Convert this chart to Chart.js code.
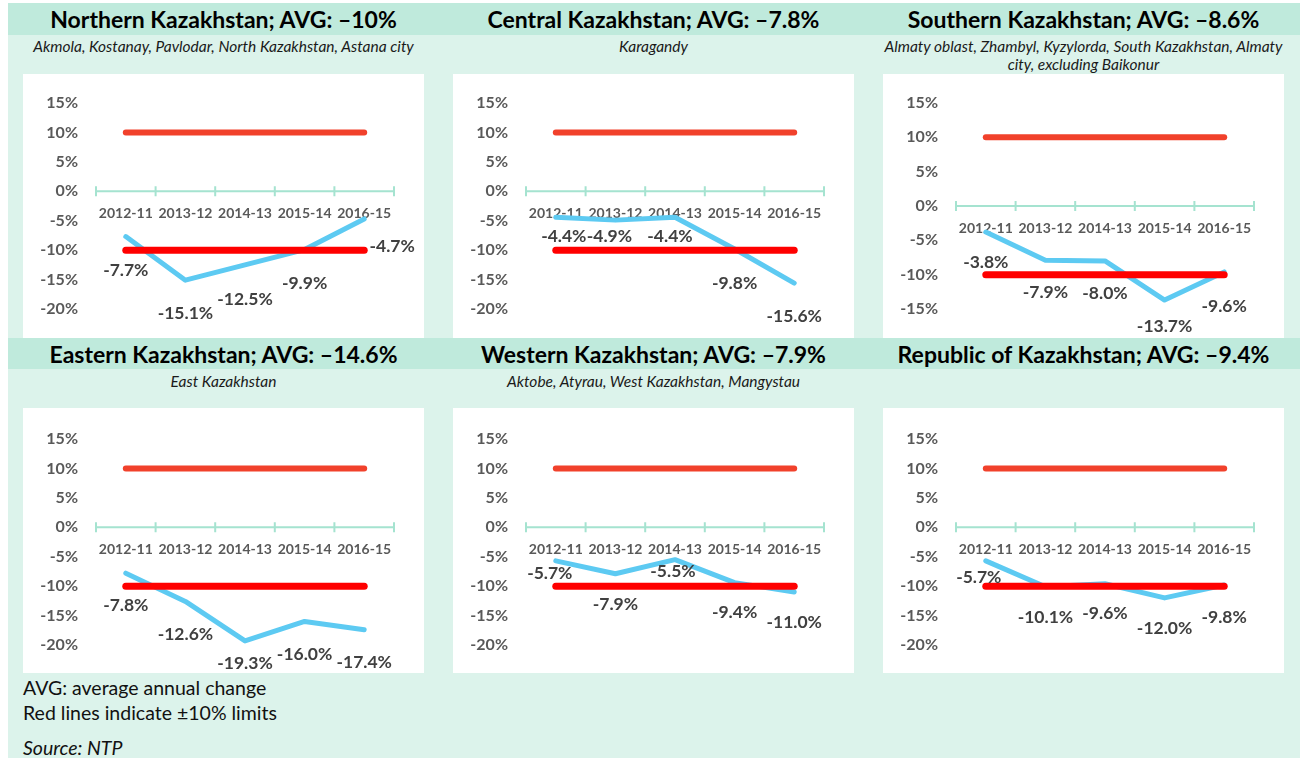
<!DOCTYPE html>
<html>
<head>
<meta charset="utf-8">
<script src="https://cdn.jsdelivr.net/npm/chart.js@4.4.1/dist/chart.umd.min.js"></script>
<style>
body { margin: 0; background: #fff; font-family: Lato, sans-serif; }
#wrap { position: absolute; left: 8px; top: 3px; width: 1292px; height: 755px; background: #dcf3eb; }
.band { position: absolute; left: 8px; width: 1292px; background: #bfeadc; }
.title { position: absolute; width: 401px; text-align: center; white-space: nowrap; font-weight: bold; font-size: 23px; line-height: 28px; color: #000; }
.sub { position: absolute; width: 441px; text-align: center; white-space: nowrap; font-style: italic; font-size: 15.5px; color: #1a1a1a; line-height: 18px; }
.panel { position: absolute; width: 401px; background: #fff; }
.note { position: absolute; left: 23px; font-size: 19.5px; line-height: 24px; color: #111; white-space: nowrap; }
</style>
</head>
<body>
<div id="wrap"></div>
<div class="band" style="top:3px;height:32px"></div>
<div class="band" style="top:338px;height:31px"></div>
<div id="panels"></div>
<div class="note" style="top:676px">AVG: average annual change</div>
<div class="note" style="top:701px">Red lines indicate ±10% limits</div>
<div class="note" style="top:736px;font-style:italic">Source: NTP</div>
<script>
const categories = ['2012-11', '2013-12', '2014-13', '2015-14', '2016-15'];

const regionNames = ['Northern Kazakhstan', 'Central Kazakhstan', 'Southern Kazakhstan',
                     'Eastern Kazakhstan', 'Western Kazakhstan', 'Republic of Kazakhstan'];
const regionAvg = ['–10%', '–7.8%', '–8.6%', '–14.6%', '–7.9%', '–9.4%'];
const regionAreas = [
    'Akmola, Kostanay, Pavlodar, North Kazakhstan, Astana city',
    'Karagandy',
    'Almaty oblast, Zhambyl, Kyzylorda, South Kazakhstan, Almaty<br>city, excluding Baikonur',
    'East Kazakhstan',
    'Aktobe, Atyrau, West Kazakhstan, Mangystau',
    ''
];

const northern = [-7.7, -15.1, -12.5, -9.9, -4.7];
const central  = [-4.4, -4.9, -4.4, -9.8, -15.6];
const southern = [-3.8, -7.9, -8.0, -13.7, -9.6];
const eastern  = [-7.8, -12.6, -19.3, -16.0, -17.4];
const western  = [-5.7, -7.9, -5.5, -9.4, -11.0];
const republic = [-5.7, -10.1, -9.6, -12.0, -9.8];
const regionSeries = [northern, central, southern, eastern, western, republic];

const upperLimit = [10, 10, 10, 10, 10];
const lowerLimit = [-10, -10, -10, -10, -10];
const yMin = [-20, -20, -15, -20, -20, -20];
const yMax = 15;

// where each value label sits relative to its point (px)
const labelShift = [
    [[0, 34], [0, 33], [0, 35], [0, 34], [28, 27]],
    [[8, 19], [-6, 16], [-5, 19], [0, 34], [0, 33]],
    [[0, 30], [0, 32], [0, 32], [0, 26], [0, 34]],
    [[0, 32], [0, 33], [0, 22], [0, 33], [0, 33]],
    [[-6, 13], [0, 31], [-2, 12], [0, 30], [0, 30]],
    [[-7, 17], [0, 31], [0, 30], [0, 30], [0, 32]]
];

const colX = [23, 453, 883];
const rowY = [74, 408];
const rowH = [264, 265];
const titleY = [5, 340];
const subY = [37, 372];

Chart.defaults.font.family = 'Lato, sans-serif';
Chart.defaults.animation = false;

const zeroAxis = {
    id: 'zeroAxis',
    beforeDatasetsDraw(chart) {
        const { ctx, scales: { x, y } } = chart;
        const y0 = y.getPixelForValue(0);
        ctx.save();
        ctx.strokeStyle = '#a5e3d0';
        ctx.lineWidth = 2;
        ctx.beginPath();
        ctx.moveTo(x.getPixelForValue(-0.5), y0);
        ctx.lineTo(x.getPixelForValue(categories.length - 0.5), y0);
        for (let i = 0; i <= categories.length; i++) {
            const px = x.getPixelForValue(i - 0.5);
            ctx.moveTo(px, y0 - 5);
            ctx.lineTo(px, y0 + 5);
        }
        ctx.stroke();
        ctx.restore();
    }
};

const valueLabels = {
    id: 'valueLabels',
    afterDatasetsDraw(chart, args, opts) {
        const ctx = chart.ctx;
        const ds = chart.data.datasets[opts.index];
        const meta = chart.getDatasetMeta(opts.index);
        ctx.save();
        ctx.font = 'bold 17.5px Lato, sans-serif';
        ctx.fillStyle = '#404040';
        ctx.textAlign = 'center';
        ctx.textBaseline = 'middle';
        meta.data.forEach((pt, i) => {
            const [dx, dy] = opts.shift[i];
            ctx.fillText(ds.data[i].toFixed(1) + '%', pt.x + dx, pt.y + dy);
        });
        ctx.restore();
    }
};

const panels = document.getElementById('panels');

regionNames.forEach((name, k) => {
    const col = k % 3, row = Math.floor(k / 3);
    const cx = colX[col];

    const t = document.createElement('div');
    t.className = 'title';
    t.style.left = cx + 'px';
    t.style.top = titleY[row] + 'px';
    t.textContent = name + '; AVG: ' + regionAvg[k];
    panels.appendChild(t);

    const s = document.createElement('div');
    s.className = 'sub';
    s.style.left = (cx - 20) + 'px';
    s.style.top = subY[row] + 'px';
    s.innerHTML = regionAreas[k];
    panels.appendChild(s);

    const p = document.createElement('div');
    p.className = 'panel';
    p.style.left = cx + 'px';
    p.style.top = rowY[row] + 'px';
    p.style.height = rowH[row] + 'px';
    const cv = document.createElement('canvas');
    p.appendChild(cv);
    panels.appendChild(p);

    new Chart(cv, {
        type: 'line',
        data: {
            labels: categories,
            datasets: [
                { data: upperLimit, borderColor: '#f1412b', borderWidth: 6, borderCapStyle: 'round', pointRadius: 0 },
                { data: lowerLimit, borderColor: '#ff0000', borderWidth: 7, borderCapStyle: 'round', pointRadius: 0 },
                { data: regionSeries[k], borderColor: '#5dcaf2', borderWidth: 5, borderJoinStyle: 'round',
                  borderCapStyle: 'round', pointRadius: 0 }
            ]
        },
        options: {
            responsive: true,
            maintainAspectRatio: false,
            layout: { padding: { top: 29 + row * 2, bottom: 29 - row, right: 30 } },
            plugins: {
                legend: { display: false },
                tooltip: { enabled: false },
                valueLabels: { index: 2, shift: labelShift[k] }
            },
            scales: {
                x: {
                    position: { y: 0 },
                    offset: true,
                    grid: { display: false, drawTicks: false },
                    border: { display: false },
                    ticks: { color: '#595959', font: { size: 14, weight: 'bold' }, padding: 14, maxRotation: 0 }
                },
                y: {
                    min: yMin[k],
                    max: yMax,
                    grid: { display: false, drawTicks: false },
                    border: { display: false },
                    afterFit: (scale) => { scale.width = 73; },
                    ticks: {
                        stepSize: 5,
                        color: '#595959',
                        padding: 18,
                        font: { size: 16, weight: 'bold' },
                        callback: (v) => v + '%'
                    }
                }
            }
        },
        plugins: [zeroAxis, valueLabels]
    });
});
</script>
</body>
</html>
